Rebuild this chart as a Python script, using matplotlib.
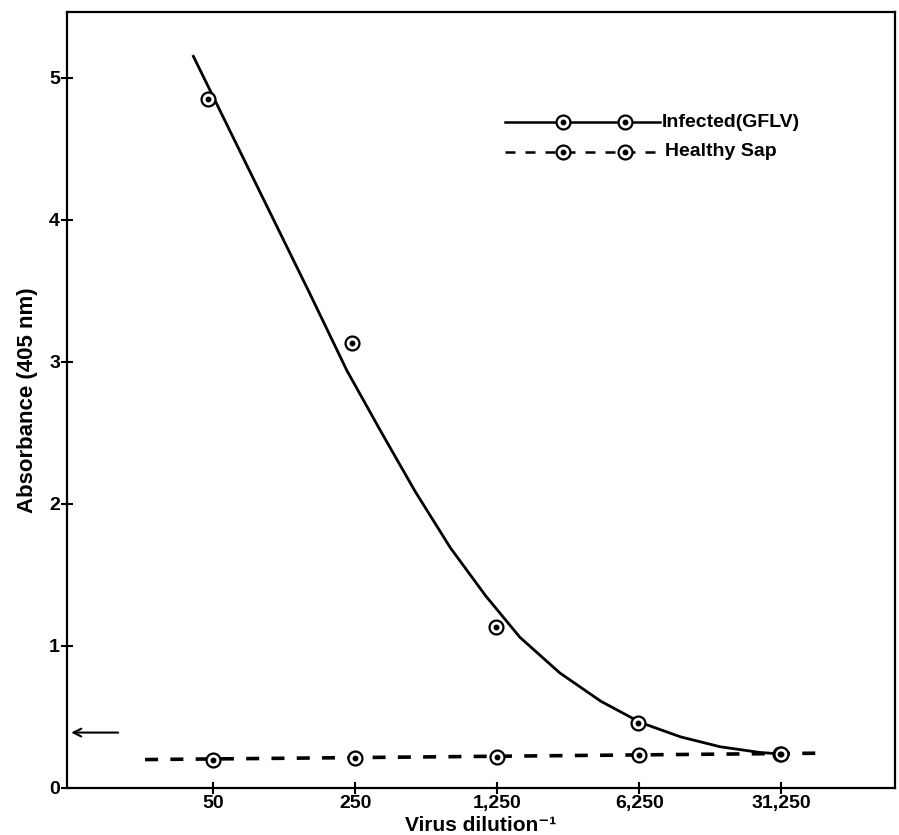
import numpy as np
import matplotlib
matplotlib.use("Agg")
import matplotlib.pyplot as plt

# Data
dilutions = ["50", "250", "1,250", "6,250", "31,250"]
infected = [4.85, 3.13, 1.13, 0.46, 0.24]
healthy = [0.20, 0.21, 0.22, 0.23, 0.24]
# the hand-plotted infected points sit slightly left of their ticks
infected_shift = [-0.04, -0.02, -0.01, -0.01, -0.01]

# hand-drawn smooth curve through the infected points
curve_x = [-0.14, 0.12, 0.40, 0.68, 0.94, 1.18, 1.42, 1.67, 1.92,
           2.16, 2.44, 2.73, 3.01, 3.29, 3.57, 3.85, 3.99]
curve_y = [5.15, 4.62, 4.05, 3.48, 2.94, 2.51, 2.09, 1.69, 1.35,
           1.06, 0.81, 0.61, 0.46, 0.36, 0.29, 0.25, 0.24]

# dashed baseline for healthy sap
healthy_line_x = [-0.48, 4.27]
healthy_line_y = [0.20, 0.245]

# arrow marking the cut-off
cutoff = 0.39

plt.rcParams['font.family'] = ['Liberation Sans', 'DejaVu Sans']

fig = plt.figure(figsize=(8.99, 8.35), dpi=100)
ax = fig.add_axes([0.0745, 0.0563, 0.921, 0.929])

x = np.arange(len(dilutions))

ax.plot(curve_x, curve_y, color='black', lw=2.0, solid_joinstyle='round')
ax.plot(healthy_line_x, healthy_line_y, color='black', lw=2.6, dashes=(3.6, 3.4))

def dot_markers(xs, ys, **kw):
    ax.plot(xs, ys, 'o', ms=10, mfc='white', mec='black', mew=1.6, zorder=5, **kw)
    ax.plot(xs, ys, 'o', ms=3.2, color='black', zorder=6, **kw)

dot_markers(x + np.array(infected_shift), infected)
dot_markers(x, healthy)

ax.annotate('', xy=(-1.02, cutoff), xytext=(-0.65, cutoff),
            arrowprops=dict(arrowstyle='->', color='black', lw=1.5, mutation_scale=14))

ax.set_xlim(-1.03, 4.80)
ax.set_ylim(0, 5.46)
ax.set_xticks(x)
ax.set_xticklabels(dilutions)
ax.set_yticks([0, 1, 2, 3, 4, 5])
ax.tick_params(direction='inout', length=8, width=1.5, labelsize=14, pad=1)
for lab in ax.get_xticklabels() + ax.get_yticklabels():
    lab.set_fontweight('bold')
for s in ax.spines.values():
    s.set_linewidth(1.6)

ax.set_xlabel('Virus dilution\u207b\u00b9', fontsize=15, fontweight='bold', labelpad=3)
ax.set_ylabel('Absorbance (405 nm)', fontsize=16, fontweight='bold', labelpad=8)

# legend drawn by hand
tr = ax.transAxes
ax.plot([0.529, 0.716], [0.858, 0.858], color='black', lw=1.8, transform=tr)
ax.plot([0.599, 0.674], [0.858, 0.858], 'o', ms=10, mfc='white', mec='black', mew=1.6, transform=tr)
ax.plot([0.599, 0.674], [0.858, 0.858], 'o', ms=3.2, color='black', transform=tr)
ax.plot([0.529, 0.714], [0.820, 0.820], color='black', lw=1.8, dashes=(4, 4), transform=tr)
ax.plot([0.599, 0.674], [0.820, 0.820], 'o', ms=10, mfc='white', mec='black', mew=1.6, transform=tr)
ax.plot([0.599, 0.674], [0.820, 0.820], 'o', ms=3.2, color='black', transform=tr)
ax.text(0.718, 0.858, 'Infected(GFLV)', transform=tr, fontsize=14, fontweight='bold', va='center')
ax.text(0.722, 0.820, 'Healthy Sap', transform=tr, fontsize=14, fontweight='bold', va='center')

fig.savefig('out.png', dpi=100)
